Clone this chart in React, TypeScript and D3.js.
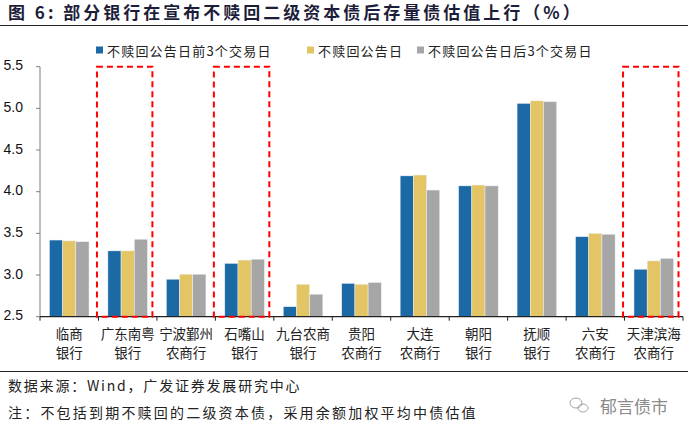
import { useEffect } from 'react';
import * as d3 from 'd3';

// ---------------------------------------------------------------------------
// Data
// ---------------------------------------------------------------------------

const banks = [
  ['临商', '银行'],
  ['广东南粤', '银行'],
  ['宁波鄞州', '农商行'],
  ['石嘴山', '银行'],
  ['九台农商', '银行'],
  ['贵阳', '农商行'],
  ['大连', '农商行'],
  ['朝阳', '银行'],
  ['抚顺', '银行'],
  ['六安', '农商行'],
  ['天津滨海', '农商行'],
];

const seriesNames = ['不赎回公告日前3个交易日', '不赎回公告日', '不赎回公告日后3个交易日'];
const before3 = [3.42, 3.29, 2.95, 3.14, 2.62, 2.9, 4.19, 4.07, 5.06, 3.46, 3.07];
const onDay = [3.41, 3.29, 3.01, 3.18, 2.89, 2.89, 4.2, 4.08, 5.09, 3.5, 3.17];
const after3 = [3.4, 3.43, 3.01, 3.19, 2.77, 2.91, 4.02, 4.07, 5.08, 3.49, 3.2];
const highlighted = [1, 3, 10];
const yTicks = [2.5, 3.0, 3.5, 4.0, 4.5, 5.0, 5.5];

// ---------------------------------------------------------------------------
// Styles
// ---------------------------------------------------------------------------

const COLORS = ['#1B6AA5', '#E3C565', '#A6A6A6'];
const CJK = '"Noto Sans CJK SC", "Noto Sans", sans-serif';
const LATIN = '"Liberation Sans", Arial, sans-serif';

export default function App() {
  useEffect(() => {
    document.body.style.margin = '0';
  }, []);

  const W = 688;
  const H = 437;
  const margin = { left: 40, right: 5, top: 66.7, bottom: 120.3 };
  const plotW = W - margin.left - margin.right;

  const x = d3.scaleBand<number>()
    .domain(d3.range(banks.length))
    .range([margin.left, margin.left + plotW]);

  const y = d3.scaleLinear()
    .domain([2.5, 5.5])
    .range([H - margin.bottom, margin.top]);

  const series = [before3, onDay, after3];
  const bw = x.bandwidth();
  const barW = 13.2;
  const groupStart = (bw - barW * 3) / 2;

  const legendX = [96, 307, 417];

  return (
    <svg width={W} height={H} style={{ display: 'block', background: '#fff' }}>
      {/* Title */}
      <text x={8} y={19} fontFamily={CJK} fontSize={17} fontWeight={700} letterSpacing={3} fill="#1d1d3a">
        图 6:  部分银行在宣布不赎回二级资本债后存量债估值上行（%）
      </text>
      <line x1={0} x2={W} y1={25.5} y2={25.5} stroke="#222" strokeWidth={1.2} />

      {/* Legend */}
      {seriesNames.map((name, i) => (
        <g key={name}>
          <rect x={legendX[i]} y={46.5} width={7} height={7} fill={COLORS[i]} />
          <text x={legendX[i] + 11} y={55.5} fontFamily={CJK} fontSize={13} letterSpacing={1.2} fill="#222">
            {name}
          </text>
        </g>
      ))}

      {/* Bars */}
      {series.map((vals, s) =>
        vals.map((v, i) => (
          <rect
            key={`${s}-${i}`}
            x={(x(i) as number) + groupStart + s * barW}
            y={y(v)}
            width={barW}
            height={y(2.5) - y(v)}
            fill={COLORS[s]}
            stroke="#eef2f6"
            strokeWidth={0.5}
          />
        ))
      )}

      {/* Y axis */}
      <line x1={margin.left} x2={margin.left} y1={y(5.5)} y2={y(2.5)} stroke="#7f7f7f" strokeWidth={1} />
      {yTicks.map((t) => (
        <g key={t}>
          <line x1={margin.left - 4} x2={margin.left} y1={y(t)} y2={y(t)} stroke="#7f7f7f" />
          <text
            x={margin.left - 17}
            y={y(t)}
            textAnchor="end"
            dominantBaseline="middle"
            fontFamily={LATIN}
            fontSize={14}
            fill="#111"
          >
            {t.toFixed(1)}
          </text>
        </g>
      ))}

      {/* X axis */}
      <line x1={margin.left} x2={margin.left + plotW} y1={y(2.5)} y2={y(2.5)} stroke="#222" strokeWidth={1.3} />
      {d3.range(banks.length + 1).map((i) => {
        const xx = i < banks.length ? (x(i) as number) : margin.left + plotW;
        return <line key={i} x1={xx} x2={xx} y1={y(2.5)} y2={y(2.5) + 4} stroke="#222" />;
      })}
      {banks.map((lines, i) => (
        <text
          key={i}
          x={(x(i) as number) + bw / 2}
          fontFamily={CJK}
          fontSize={13.5}
          textAnchor="middle"
          fill="#222"
        >
          <tspan x={(x(i) as number) + bw / 2} y={339}>{lines[0]}</tspan>
          <tspan x={(x(i) as number) + bw / 2} y={358}>{lines[1]}</tspan>
        </text>
      ))}

      {/* Highlight boxes */}
      {highlighted.map((i) => (
        <rect
          key={i}
          x={(x(i) as number) - 1.5}
          y={y(5.5)}
          width={bw - 3}
          height={y(2.5) - y(5.5)}
          fill="none"
          stroke="#FF0000"
          strokeWidth={2}
          strokeDasharray="6,4"
        />
      ))}

      {/* Footer */}
      <line x1={0} x2={W} y1={371.5} y2={371.5} stroke="#222" strokeWidth={1.2} />
      <text x={8} y={391} fontFamily={CJK} fontSize={14} letterSpacing={1.8} fill="#222">
        数据来源：Wind，广发证券发展研究中心
      </text>
      <text x={8} y={418} fontFamily={CJK} fontSize={14} letterSpacing={2.2} fill="#222">
        注：不包括到期不赎回的二级资本债，采用余额加权平均中债估值
      </text>
      <g transform="translate(576,404)" stroke="#999" fill="none" strokeWidth={0.9}>
        <ellipse cx={0} cy={-1} rx={6} ry={5} />
        <ellipse cx={7} cy={4} rx={5} ry={4} />
      </g>
      <text x={600} y={413} fontFamily={CJK} fontSize={17} fill="#8a8a8a">
        郁言债市
      </text>
    </svg>
  );
}
